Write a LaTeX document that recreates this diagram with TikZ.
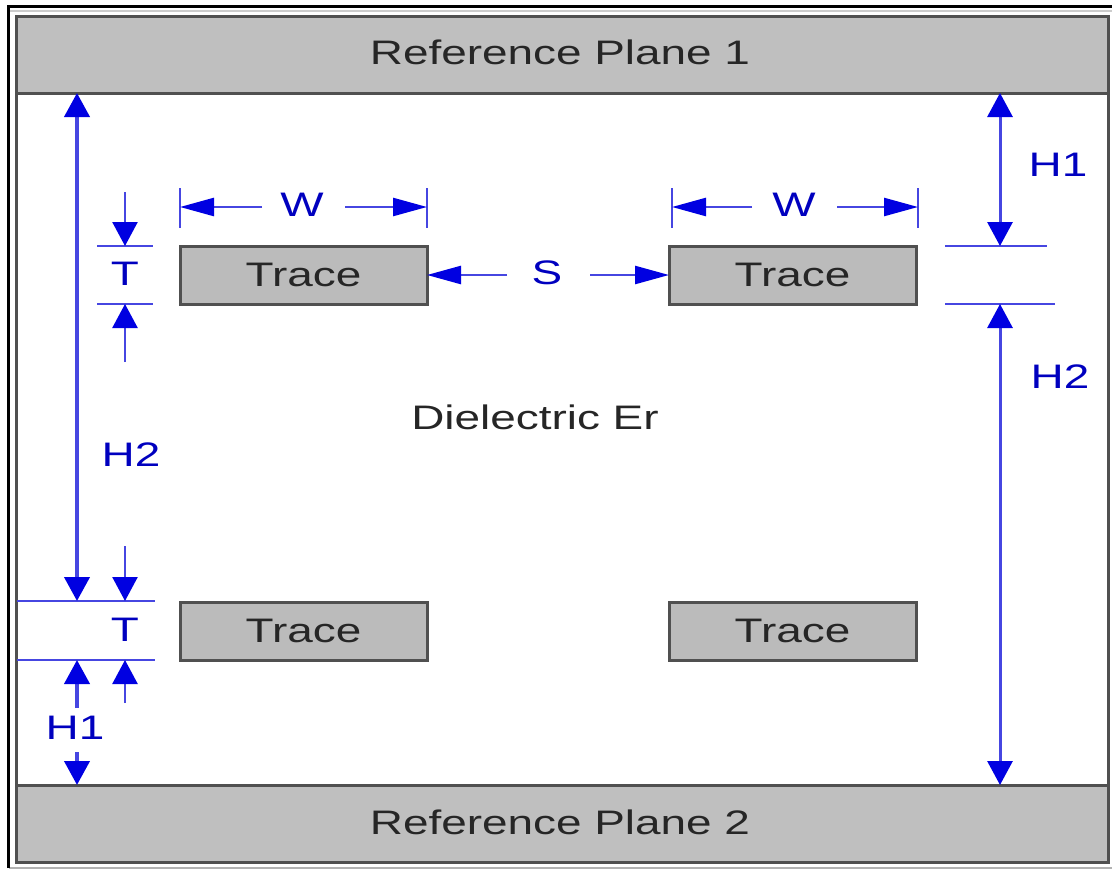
\documentclass[tikz,border=0pt]{standalone}
\usepackage{fontspec}
\setmainfont[FakeStretch=1.35]{Liberation Sans}
\usetikzlibrary{arrows.meta}
\definecolor{planegray}{RGB}{191,191,191}
\definecolor{edgegray}{RGB}{80,80,80}
\definecolor{dimblue}{RGB}{0,0,225}
\definecolor{shaftblue}{RGB}{70,70,225}
\tikzset{
  plane/.style={draw=edgegray, line width=3pt, fill=planegray, inner sep=0pt, outer sep=0pt,
    minimum width=1092pt, minimum height=77pt, text=black!85},
  trace/.style={draw=edgegray, line width=3pt, fill=planegray!98!black, inner sep=0pt, outer sep=0pt,
    minimum width=247pt, minimum height=58pt, text=black!85},
  lbl/.style={text=dimblue!85!black, inner sep=0pt},
  vdim/.style={draw=shaftblue, line width=2.5pt, -{Triangle[width=25pt,length=24pt,color=dimblue]}},
  vdimboth/.style={draw=shaftblue, line width=3pt, {Triangle[width=25pt,length=24pt,color=dimblue]}-{Triangle[width=25pt,length=24pt,color=dimblue]}},
  hdim/.style={draw=shaftblue, line width=2.5pt, -{Triangle[width=18pt,length=34pt,color=dimblue]}},
  extline/.style={draw=shaftblue, line width=2.5pt},
}
\begin{document}
\begin{tikzpicture}[x=1pt,y=-1pt,font=\fontsize{34}{40}\selectfont]
\useasboundingbox (0,0) rectangle (1112,870);

% Frame
\draw[gray!40, line width=2pt] (10,11) -- (1112,11);
\draw[edgegray, line width=3pt] (16,16) rectangle (1108,862);
\draw[gray!60, line width=2pt] (9,868) -- (1112,868);
\draw[black, line width=3pt] (8.5,868) -- (8.5,6.5) -- (1112,6.5);

% Planes
\node[plane] (plane1) at (562,54.5) {};
\node[plane] (plane2) at (562,823.5) {};
\node[text=black!85, inner sep=0pt] (plane1text) at (560,52) {Reference Plane 1};
\node[text=black!85, inner sep=0pt] (plane2text) at (560,822) {Reference Plane 2};

% Traces
\foreach \name/\x/\y in {traceA/303.5/275, traceB/792.5/275, traceC/303.5/631, traceD/792.5/631}
  \node[trace] (\name) at (\x,\y) {Trace};

\node[text=black!85, inner sep=0pt] (dielectric) at (535,417) {Dielectric Er};

% Extension lines, left
\coordinate (extA1) at (97,246);  \coordinate (extA2) at (153,246);
\coordinate (extB1) at (97,304);  \coordinate (extB2) at (153,304);
\coordinate (extC1) at (17,601);  \coordinate (extC2) at (155,601);
\coordinate (extD1) at (17,660);  \coordinate (extD2) at (155,660);
\draw[extline] (extA1) -- (extA2);
\draw[extline] (extB1) -- (extB2);
\draw[extline] (extC1) -- (extC2);
\draw[extline] (extD1) -- (extD2);

% Extension lines, right
\coordinate (extE1) at (945,246); \coordinate (extE2) at (1047,246);
\coordinate (extF1) at (945,304); \coordinate (extF2) at (1055,304);
\draw[extline] (extE1) -- (extE2);
\draw[extline] (extF1) -- (extF2);

% T arrows
\foreach \from/\to/\tname in {192/246/tA, 362/304/tB, 546/601/tC, 703/660/tD} {
  \coordinate (\tname0) at (125,\from);
  \coordinate (\tname1) at (125,\to);
  \draw[vdim] (\tname0) -- (\tname1);
}
\node[lbl] (labelT1) at (125,274) {T};
\node[lbl] (labelT2) at (125,630) {T};

% H arrows, left
\coordinate (leftA) at (77,93);
\coordinate (leftB) at (77,601);
\coordinate (leftC) at (77,708);
\coordinate (leftD) at (77,660);
\coordinate (leftE) at (77,752);
\coordinate (leftF) at (77,785);
\draw[vdimboth, line width=4pt] (leftA) -- (leftB);
\draw[vdim, line width=4pt] (leftC) -- (leftD);
\draw[vdim, line width=4pt] (leftE) -- (leftF);
\node[lbl] (labelH2left) at (131,455) {H2};
\node[lbl] (labelH1left) at (75,728) {H1};

% H arrows, right
\coordinate (rightA) at (1000,93);
\coordinate (rightB) at (1000,246);
\coordinate (rightC) at (1000,304);
\coordinate (rightD) at (1000,785);
\draw[vdimboth] (rightA) -- (rightB);
\draw[vdimboth] (rightC) -- (rightD);
\node[lbl] (labelH1right) at (1058,165) {H1};
\node[lbl] (labelH2right) at (1060,377) {H2};

% W dimensions
\foreach \tag/\xa/\xb/\xc/\xd/\xl in {P/180/262/345/427/302, Q/672/752/837/918/794} {
  \coordinate (tick\tag a) at (\xa,188); \coordinate (tick\tag b) at (\xa,228);
  \coordinate (tick\tag c) at (\xd,188); \coordinate (tick\tag d) at (\xd,228);
  \coordinate (tick\tag e) at (\xa,207); \coordinate (tick\tag f) at (\xd,207);
  \coordinate (tick\tag g) at (\xb,207); \coordinate (tick\tag h) at (\xc,207);
  \draw[extline] (tick\tag a) -- (tick\tag b);
  \draw[extline] (tick\tag c) -- (tick\tag d);
  \draw[hdim] (tick\tag g) -- (tick\tag e);
  \draw[hdim] (tick\tag h) -- (tick\tag f);
  \node[lbl] (labelW\tag) at (\xl,205) {W};
}

% S dimension
\coordinate (spaceA) at (507,275);
\coordinate (spaceB) at (590,275);
\draw[hdim] (spaceA) -- (traceA.east);
\draw[hdim] (spaceB) -- (traceB.west);
\node[lbl] (labelS) at (547,273) {S};
\end{tikzpicture}
\end{document}
